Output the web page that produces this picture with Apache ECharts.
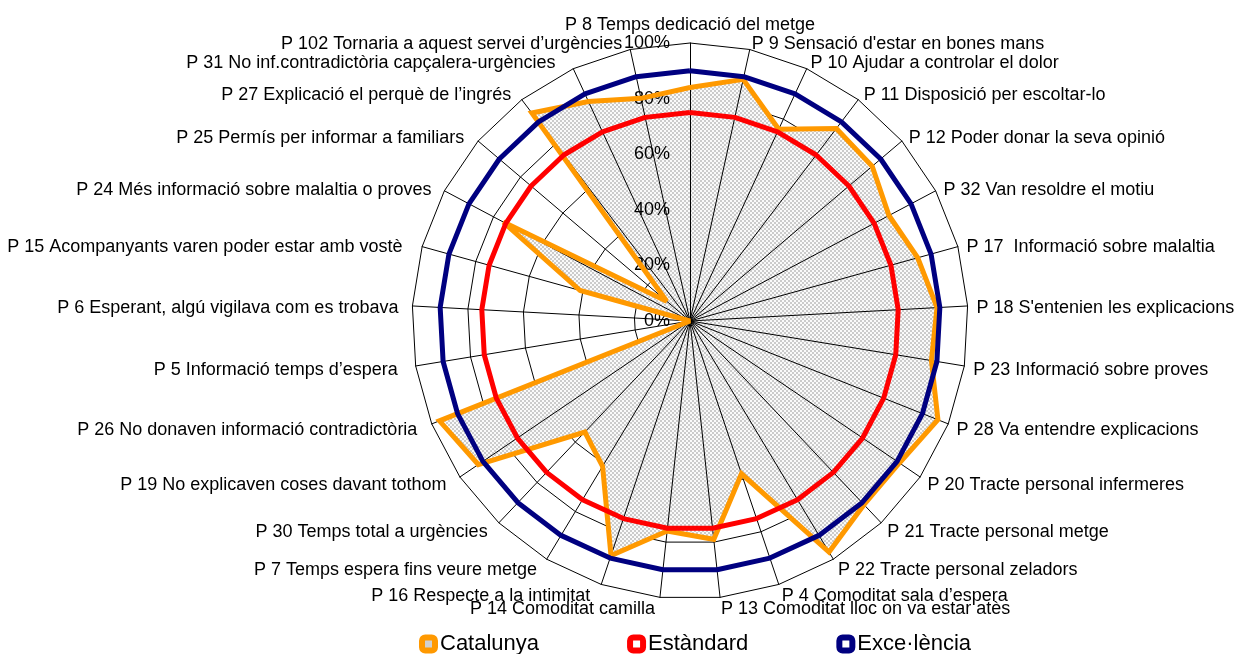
<!DOCTYPE html>
<html><head><meta charset="utf-8">
<script src="https://cdn.jsdelivr.net/npm/echarts@6.0.0/dist/echarts.min.js"></script>
<style>html,body{margin:0;padding:0;background:#fff}#c{width:1238px;height:654px}</style>
</head><body><div id="c"></div>
<script>
// Categories in clockwise order starting from the top
const categories = [
  "P 8 Temps dedicació del metge",
  "P 9 Sensació d'estar en bones mans",
  "P 10 Ajudar a controlar el dolor",
  "P 11 Disposició per escoltar-lo",
  "P 12 Poder donar la seva opinió",
  "P 32 Van resoldre el motiu",
  "P 17  Informació sobre malaltia",
  "P 18 S'entenien les explicacions",
  "P 23 Informació sobre proves",
  "P 28 Va entendre explicacions",
  "P 20 Tracte personal infermeres",
  "P 21 Tracte personal metge",
  "P 22 Tracte personal zeladors",
  "P 4 Comoditat sala d\u2019espera",
  "P 13 Comoditat lloc on va estar atès",
  "P 14 Comoditat camilla",
  "P 16 Respecte a la intimitat",
  "P 7 Temps espera fins veure metge",
  "P 30 Temps total a urgències",
  "P 19 No explicaven coses davant tothom",
  "P 26 No donaven informació contradictòria",
  "P 5 Informació temps d\u2019espera",
  "P 6 Esperant, algú vigilava com es trobava",
  "P 15 Acompanyants varen poder estar amb vostè",
  "P 24 Més informació sobre malaltia o proves",
  "P 25 Permís per informar a familiars",
  "P 27 Explicació el perquè de l\u2019ingrés",
  "P 31 No inf.contradictòria capçalera-urgències",
  "P 102 Tornaria a aquest servei d\u2019urgències"
];
const catalunya = [84, 89, 76, 87, 86, 81, 85, 89, 88, 96, 91, 91, 97, 58, 79, 76, 89, 61, 55, 92, 97, 0, 0, 41, 76, 11, 94, 87, 82];
const estandard = [75, 75, 75, 75, 75, 75, 75, 75, 75, 75, 75, 75, 75, 75, 75, 75, 75, 75, 75, 75, 75, 75, 75, 75, 75, 75, 75, 75, 75];
const excellencia = [90, 90, 90, 90, 90, 90, 90, 90, 90, 90, 90, 90, 90, 90, 90, 90, 90, 90, 90, 90, 90, 90, 90, 90, 90, 90, 90, 90, 90];
const tickLabels = ['0%', '20%', '40%', '60%', '80%', '100%'];
const seriesNames = ['Catalunya', 'Estàndard', 'Exce·lència'];

// extra gap (px) for left-hand axis names, keyed by clockwise position (style only)
const leftNameGap = { 15: 4, 16: 8, 17: 5, 18: 5, 19: 6, 20: 6, 21: 9, 22: 5, 23: 11, 24: 5, 25: 7, 26: 5, 27: 14, 28: 6 };

// ECharts radar runs counter-clockwise: reorder to obtain a clockwise layout
const n = categories.length;
const order = [0];
for (let i = n - 1; i >= 1; i--) order.push(i);
const re = arr => order.map(i => arr[i]);

// hatch pattern
const pc = document.createElement('canvas');
pc.width = 4; pc.height = 4;
const g = pc.getContext('2d');
g.fillStyle = '#fafafa'; g.fillRect(0, 0, 4, 4);
g.fillStyle = '#cbcbcb'; g.fillRect(0, 0, 2, 2); g.fillRect(2, 2, 2, 2);
const pattern = { image: pc, repeat: 'repeat' };

const FONT = '"Liberation Sans", Arial, sans-serif';
const center = [690, 321];
const radius = 278;

const rich = {};
Object.keys(leftNameGap).forEach(k => { rich['n' + k] = { padding: [0, leftNameGap[k], 0, 0] }; });

const indicatorsBase = re(categories).map(name => ({ name: name, min: 0, max: 100 }));
const indicatorsTop = indicatorsBase.map((d, i) => i === 0
  ? Object.assign({}, d, { axisLabel: { show: true } })
  : Object.assign({}, d));

const chart = echarts.init(document.getElementById('c'));
chart.setOption({
  animation: false,
  backgroundColor: '#fff',
  radar: [
    {
      z: 1, center: center, radius: radius, startAngle: 90, splitNumber: 5, shape: 'polygon',
      indicator: indicatorsBase,
      axisName: { show: false },
      axisLine: { show: false },
      axisTick: { show: false },
      axisLabel: { show: false },
      splitArea: { show: false },
      splitLine: { show: true, lineStyle: { color: '#000', width: 1 } }
    },
    {
      z: 3, center: center, radius: radius, startAngle: 90, splitNumber: 5, shape: 'polygon',
      indicator: indicatorsTop,
      nameGap: 9,
      axisName: {
        show: true, color: '#000', fontSize: 18, fontFamily: FONT, padding: [6, 0, 0, 0],
        formatter: function (name) {
          const k = categories.indexOf(name);
          return leftNameGap[k] != null ? '{n' + k + '|' + name + '}' : name;
        },
        rich: rich
      },
      axisLine: { show: true, lineStyle: { color: '#000', width: 1 } },
      axisTick: { show: false },
      axisLabel: {
        show: false, color: '#000', fontSize: 18, fontFamily: FONT, margin: 20, padding: [4, 0, 0, 0],
        formatter: v => tickLabels[Math.round(v / 20)]
      },
      splitArea: { show: false },
      splitLine: { show: false }
    }
  ],
  legend: {
    left: 414, top: 628, itemWidth: 13, itemHeight: 13, itemGap: 88,
    icon: 'roundRect',
    textStyle: { color: '#000', fontSize: 22, fontFamily: FONT },
    data: [
      { name: seriesNames[0], itemStyle: { color: '#d0d0d0', borderColor: '#FF9900', borderWidth: 6 } },
      { name: seriesNames[1], itemStyle: { color: '#fff', borderColor: '#FF0000', borderWidth: 6 } },
      { name: seriesNames[2], itemStyle: { color: '#fff', borderColor: '#000080', borderWidth: 6 } }
    ]
  },
  series: [
    {
      type: 'radar', radarIndex: 0, z: 2, name: 'CatalunyaFill', silent: true, symbol: 'none',
      lineStyle: { width: 0, opacity: 0 },
      areaStyle: { color: pattern, opacity: 1 },
      data: [{ name: 'CatalunyaFill', value: re(catalunya) }]
    },
    {
      type: 'radar', radarIndex: 0, z: 4, name: seriesNames[0], symbol: 'none',
      itemStyle: { color: '#FF9900' },
      lineStyle: { color: '#FF9900', width: 5, join: 'miter', miterLimit: 3 },
      data: [{ name: seriesNames[0], value: re(catalunya) }]
    },
    {
      type: 'radar', radarIndex: 0, z: 4, name: seriesNames[1], symbol: 'none',
      itemStyle: { color: '#FF0000' },
      lineStyle: { color: '#FF0000', width: 5 },
      data: [{ name: seriesNames[1], value: re(estandard) }]
    },
    {
      type: 'radar', radarIndex: 0, z: 4, name: seriesNames[2], symbol: 'none',
      itemStyle: { color: '#000080' },
      lineStyle: { color: '#000080', width: 5 },
      data: [{ name: seriesNames[2], value: re(excellencia) }]
    }
  ]
});
</script>
</body></html>
